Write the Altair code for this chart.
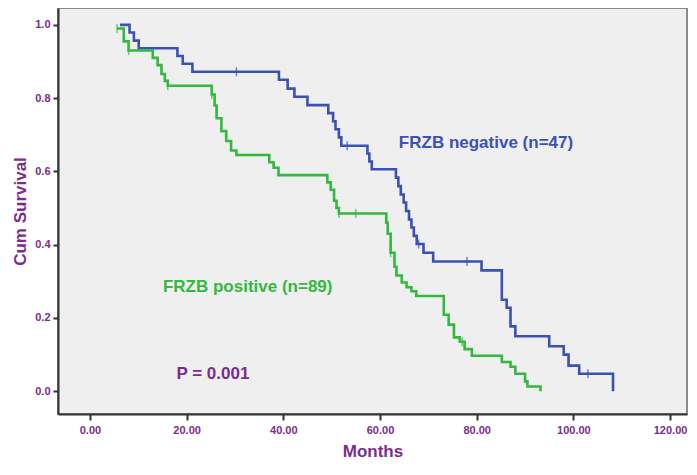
import altair as alt
import pandas as pd

# ---- data ----
neg_months = [6.2, 8.2, 9.1, 10.1, 18.1, 19.2, 21.2, 39.1, 40.9, 42.3, 45.0, 49.3, 50.3, 50.8,
              51.5, 52.0, 57.4, 57.8, 58.3, 63.3, 63.8, 64.3, 64.9, 65.4, 66.0, 66.5, 67.0,
              67.6, 69.0, 71.0, 81.0, 85.2, 86.2, 87.0, 88.0, 95.0, 98.0, 99.0, 101.2, 108.2]
neg_surv = [1.0, 0.979, 0.957, 0.936, 0.915, 0.894, 0.872, 0.850, 0.826, 0.804, 0.781, 0.759,
            0.737, 0.715, 0.693, 0.670, 0.649, 0.627, 0.606, 0.583, 0.560, 0.537, 0.515, 0.492,
            0.469, 0.447, 0.424, 0.402, 0.378, 0.354, 0.330, 0.250, 0.228, 0.177, 0.150, 0.123,
            0.100, 0.070, 0.048, 0.0]
neg_cens_months = [30.3, 53.2, 68.0, 78.0, 103.0]
neg_cens_surv = [0.872, 0.670, 0.402, 0.354, 0.048]

pos_months = [5.6, 7.0, 8.0, 13.0, 14.0, 14.8, 15.5, 16.1, 25.2, 25.8, 26.2, 27.2, 28.2, 29.2,
              30.3, 37.1, 38.0, 39.0, 49.1, 49.8, 50.5, 51.0, 51.5, 61.3, 61.6, 62.2, 63.0,
              63.4, 64.5, 65.5, 66.5, 67.5, 73.2, 74.2, 75.3, 76.5, 77.5, 79.0, 85.2, 87.0,
              88.0, 90.0, 90.5, 93.2]
pos_surv = [0.99, 0.955, 0.93, 0.91, 0.89, 0.866, 0.847, 0.834, 0.81, 0.78, 0.745, 0.71, 0.683,
            0.657, 0.645, 0.625, 0.61, 0.59, 0.57, 0.55, 0.52, 0.50, 0.485, 0.46, 0.43, 0.378,
            0.34, 0.316, 0.297, 0.284, 0.273, 0.26, 0.209, 0.182, 0.147, 0.135, 0.115, 0.097,
            0.08, 0.067, 0.048, 0.027, 0.013, 0.0]
pos_cens_months = [5.6, 8.0, 16.1, 25.2, 51.5, 55.0, 62.2, 77.0]
pos_cens_surv = [0.99, 0.93, 0.834, 0.81, 0.485, 0.485, 0.378, 0.135]

groups = ["FRZB negative", "FRZB positive"]
group_colors = ["#3b52b4", "#33b840"]
x_ticks = [0, 20, 40, 60, 80, 100, 120]
y_ticks = [0.0, 0.2, 0.4, 0.6, 0.8, 1.0]

purple = "#7b2c8c"

lines = pd.DataFrame({
    "month": neg_months + pos_months,
    "surv": neg_surv + pos_surv,
    "group": [groups[0]] * len(neg_months) + [groups[1]] * len(pos_months),
})
cens = pd.DataFrame({
    "month": neg_cens_months + pos_cens_months,
    "surv": neg_cens_surv + pos_cens_surv,
    "group": [groups[0]] * len(neg_cens_months) + [groups[1]] * len(pos_cens_months),
})

xscale = alt.Scale(domain=[-6.6, 123.5], nice=False, zero=False)
yscale = alt.Scale(domain=[-0.062, 1.046], nice=False, zero=False)
cscale = alt.Scale(domain=groups, range=group_colors)

xaxis = alt.Axis(values=x_ticks, format=".2f", title="Months", grid=False,
                 labelFont="Liberation Sans", labelFontWeight="bold", labelFontSize=11,
                 labelColor=purple, labelPadding=4,
                 titleFont="Liberation Sans", titleFontWeight="bold", titleFontSize=17,
                 titleColor=purple, titlePadding=8,
                 domainColor="#333333", domainWidth=2, tickColor="#333333", tickWidth=2,
                 tickSize=6)
yaxis = alt.Axis(values=y_ticks, format=".1f", title="Cum Survival", grid=False,
                 labelFont="Liberation Sans", labelFontWeight="bold", labelFontSize=11,
                 labelColor=purple, labelPadding=3,
                 titleFont="Liberation Sans", titleFontWeight="bold", titleFontSize=17,
                 titleColor=purple, titlePadding=5,
                 domainColor="#333333", domainWidth=2, tickColor="#333333", tickWidth=2,
                 tickSize=5)

line = alt.Chart(lines).mark_line(interpolate="step-after", strokeWidth=2.6).encode(
    x=alt.X("month:Q", scale=xscale, axis=xaxis),
    y=alt.Y("surv:Q", scale=yscale, axis=yaxis),
    color=alt.Color("group:N", scale=cscale, legend=None),
    detail="group:N",
)

ticks = alt.Chart(cens).mark_tick(orient="vertical", size=9, thickness=1.5).encode(
    x=alt.X("month:Q", scale=xscale),
    y=alt.Y("surv:Q", scale=yscale),
    color=alt.Color("group:N", scale=cscale, legend=None),
)

def label(text, xm, ys, color):
    return alt.Chart().mark_text(
        text=text, align="left", baseline="middle", font="Liberation Sans",
        fontWeight="bold", fontSize=17, color=color
    ).encode(x=alt.datum(xm, scale=xscale), y=alt.datum(ys, scale=yscale))

t1 = label("FRZB negative (n=47)", 63.9, 0.678, group_colors[0])
t2 = label("FRZB positive (n=89)", 15.1, 0.284, group_colors[1])
t3 = label("P = 0.001", 17.9, 0.048, purple)

chart = alt.layer(line, ticks, t1, t2, t3).properties(
    width=629, height=406,
    padding={"left": 50, "top": 0, "right": 2, "bottom": 46},
    autosize=alt.AutoSizeParams(type="none"),
    background="white",
).configure_view(
    fill="#efefef", stroke="#8a8a8a", strokeWidth=2
)

chart.save("out.html", embed_options={"renderer": "svg", "actions": False})
